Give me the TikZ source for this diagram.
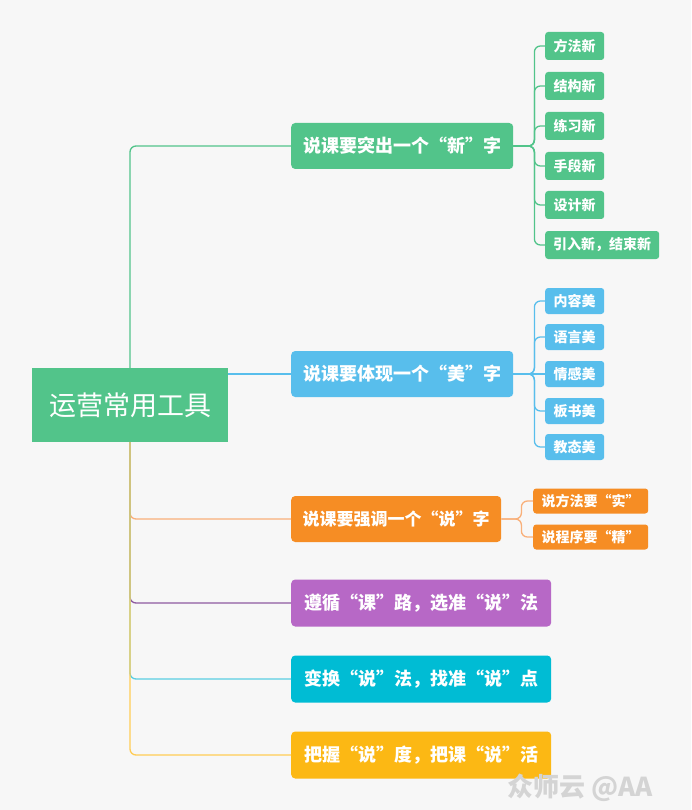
\documentclass[tikz,border=0pt]{standalone}
\usepackage{fontspec}
\setmainfont{Noto Sans CJK SC}
\usetikzlibrary{positioning}

\definecolor{bgcol}{HTML}{F7F7F7}
\definecolor{topgreen}{HTML}{52C48A}
\definecolor{topblue}{HTML}{58BEEC}
\definecolor{toporange}{HTML}{F68D24}
\definecolor{toppurple}{HTML}{B768C6}
\definecolor{topcyan}{HTML}{00BCD4}
\definecolor{topyellow}{HTML}{FCB814}
\definecolor{lineorange}{HTML}{F9B07A}
\definecolor{linepurple}{HTML}{8E5AA0}
\definecolor{linecyan}{HTML}{5ACFE2}
\definecolor{lineyellow}{HTML}{FFCC55}

\begin{document}
\begin{tikzpicture}[
    x=1pt, y=-1pt,
    root/.style={rectangle, fill=topgreen, text=white, minimum width=196pt, minimum height=74pt, inner sep=0pt, font=\fontsize{27}{30}\selectfont},
    topic/.style={rectangle, rounded corners=4pt, text=white, anchor=west, minimum height=46pt, inner sep=0pt, font=\fontsize{18}{20}\selectfont\bfseries},
    leaf/.style={rectangle, rounded corners=3pt, text=white, anchor=west, minimum height=27pt, inner sep=0pt, font=\fontsize{14}{16}\selectfont\bfseries},
    link/.style={line width=1.3pt, rounded corners=6pt}
]
    \fill[bgcol] (0,0) rectangle (691,810);
    \useasboundingbox (0,0) rectangle (691,810);

    % Central topic
    \node[root] (tools) at (130,405) {运营常用工具};

    % Main topics
    \node[topic, fill=topgreen, minimum width=222pt] (xin) at (291,146) {说课要突出一个“新”字};
    \node[topic, fill=topblue, minimum width=222pt] (mei) at (291,374) {说课要体现一个“美”字};
    \node[topic, fill=toporange, minimum width=210pt, font=\fontsize{17}{20}\selectfont\bfseries] (shuo) at (291,519) {说课要强调一个“说”字};
    \node[topic, fill=toppurple, minimum width=260pt, minimum height=47pt] (kelu) at (291,603) {遵循“课”路，选准“说”法};
    \node[topic, fill=topcyan, minimum width=260pt, minimum height=47pt] (biantong) at (291,679) {变换“说”法，找准“说”点};
    \node[topic, fill=topyellow, minimum width=260pt, minimum height=47pt] (badu) at (291,755) {把握“说”度，把课“说”活};

    % Subtopics of xin
    \node[leaf, fill=topgreen, minimum width=59pt, minimum height=28pt] (fangfa) at (545,46) {方法新};
    \node[leaf, fill=topgreen, minimum width=59pt, minimum height=28pt] (jiegou) at (545,86) {结构新};
    \node[leaf, fill=topgreen, minimum width=59pt, minimum height=28pt] (lianxi) at (545,126) {练习新};
    \node[leaf, fill=topgreen, minimum width=59pt, minimum height=28pt] (shouduan) at (545,166) {手段新};
    \node[leaf, fill=topgreen, minimum width=59pt, minimum height=28pt] (sheji) at (545,205) {设计新};
    \node[leaf, fill=topgreen, minimum width=114pt, minimum height=28pt] (yinru) at (545,245) {引入新，结束新};

    % Subtopics of mei
    \node[leaf, fill=topblue, minimum width=59pt, minimum height=26pt] (neirong) at (545,301) {内容美};
    \node[leaf, fill=topblue, minimum width=59pt, minimum height=26pt] (yuyan) at (545,337) {语言美};
    \node[leaf, fill=topblue, minimum width=59pt, minimum height=26pt] (qinggan) at (545,374) {情感美};
    \node[leaf, fill=topblue, minimum width=59pt, minimum height=26pt] (banshu) at (545,411) {板书美};
    \node[leaf, fill=topblue, minimum width=59pt, minimum height=26pt] (jiaotai) at (545,447) {教态美};

    % Subtopics of shuo
    \node[leaf, fill=toporange, minimum width=115pt, minimum height=25pt] (shi) at (533,501) {说方法要“实”};
    \node[leaf, fill=toporange, minimum width=115pt, minimum height=25pt] (jing) at (533,537) {说程序要“精”};

    % Watermark
    \node[font=\fontsize{26}{28}\selectfont\bfseries, text=black!17] (mark) at (580,788) {众师云 @AA};

    % Links from central topic
    \draw[link, topgreen] (tools.north) |- (xin.west);
    \draw[link, topblue] (tools.east |- mei.west) -- (mei.west);
    \draw[link, lineorange] (tools.south) |- (shuo.west);
    \draw[link, linepurple] (tools.south) |- (kelu.west);
    \draw[link, linecyan] (tools.south) |- (biantong.west);
    \draw[link, lineyellow] (tools.south) |- (badu.west);

    % Links to subtopics
    \draw[link, topgreen] (xin.east) -- ++(21,0) |- (fangfa.west);
    \draw[link, topgreen] (xin.east) -- ++(21,0) |- (jiegou.west);
    \draw[link, topgreen] (xin.east) -- ++(21,0) |- (lianxi.west);
    \draw[link, topgreen] (xin.east) -- ++(21,0) |- (shouduan.west);
    \draw[link, topgreen] (xin.east) -- ++(21,0) |- (sheji.west);
    \draw[link, topgreen] (xin.east) -- ++(21,0) |- (yinru.west);
    \draw[link, topblue] (mei.east) -- ++(21,0) |- (neirong.west);
    \draw[link, topblue] (mei.east) -- ++(21,0) |- (yuyan.west);
    \draw[link, topblue] (mei.east) -- (qinggan.west);
    \draw[link, topblue] (mei.east) -- ++(21,0) |- (banshu.west);
    \draw[link, topblue] (mei.east) -- ++(21,0) |- (jiaotai.west);
    \draw[link, lineorange] (shuo.east) -- ++(20,0) |- (shi.west);
    \draw[link, lineorange] (shuo.east) -- ++(20,0) |- (jing.west);
\end{tikzpicture}
\end{document}
